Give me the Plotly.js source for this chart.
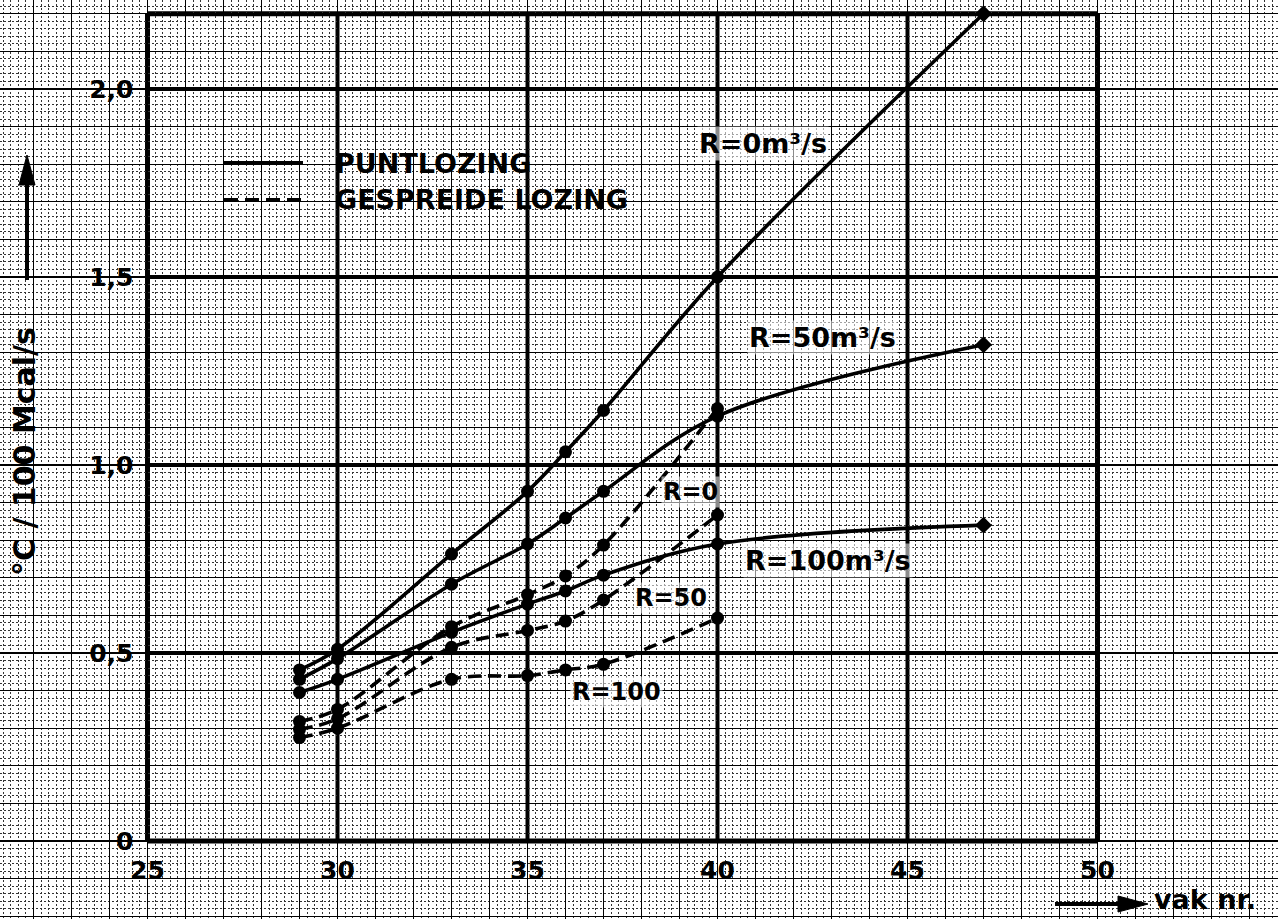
<!DOCTYPE html>
<html>
<head>
<meta charset="utf-8">
<script src="https://cdn.plot.ly/plotly-3.0.1.min.js"></script>
<style>html,body{margin:0;padding:0;background:#fff;}#chart{width:1278px;height:919px;}</style>
</head>
<body>
<div id="chart"></div>
<script>
// ---- data ----
const vakPunt = [29, 30, 33, 35, 36, 37, 40, 47];
const puntR0   = [0.455, 0.51, 0.763, 0.93, 1.035, 1.145, 1.50, 2.20];
const puntR50  = [0.43, 0.485, 0.683, 0.79, 0.859, 0.93, 1.13, 1.32];
const puntR100 = [0.395, 0.43, 0.555, 0.63, 0.665, 0.707, 0.79, 0.84];

const vakGespreid = [29, 30, 33, 35, 36, 37, 40];
const gespR0   = [0.318, 0.35, 0.57, 0.655, 0.705, 0.787, 1.15];
const gespR50  = [0.297, 0.325, 0.515, 0.56, 0.585, 0.641, 0.867];
const gespR100 = [0.275, 0.30, 0.43, 0.44, 0.455, 0.47, 0.593];

const xTickVals = [25, 30, 35, 40, 45, 50];
const xTickText = ['25', '30', '35', '40', '45', '50'];
const yTickVals = [0, 0.5, 1.0, 1.5, 2.0];
const yTickText = ['0', '0,5', '1,0', '1,5', '2,0'];

const curveLabels = [
  {text: 'R=0m³/s',   x: 41.2,  y: 1.856, size: 27},
  {text: 'R=50m³/s',  x: 42.75, y: 1.34,  size: 27},
  {text: 'R=100m³/s', x: 42.9,  y: 0.747, size: 27},
  {text: 'R=0',   x: 39.28, y: 0.928, size: 24},
  {text: 'R=50',  x: 38.78, y: 0.646, size: 24},
  {text: 'R=100', x: 37.33, y: 0.396, size: 24}
];
const legendText = ['PUNTLOZING', 'GESPREIDE LOZING'];
const yTitle = '°C / 100 Mcal/s';
const xTitle = 'vak nr.';

// ---- layout geometry ----
const W = 1278, H = 919;
const xPx25 = 147.5, pxPerX = 38;
const yPx0 = 841, pxPerY = 376;
const xRange = [25 - xPx25 / pxPerX, 25 + (W - xPx25) / pxPerX];
const yRange = [-(H - yPx0) / pxPerY, yPx0 / pxPerY];
const frameX = [25, 50], frameY = [0, 2.2];
const px = v => v / W, py = v => 1 - v / H;

const FONT = 'DejaVu Sans, Liberation Sans, sans-serif';
const DASH = '13px,7px';

function sym(xs) { return xs.map(v => v === 47 ? 'diamond' : 'circle'); }
function series(x, y, dash) {
  return {
    x: x, y: y, type: 'scatter', mode: 'lines+markers',
    line: {color: '#000', width: 3.6, shape: 'spline', smoothing: 1, dash: dash},
    marker: {color: '#000', size: 13, symbol: sym(x)},
    showlegend: false, hoverinfo: 'x+y'
  };
}

const traces = [
  series(vakGespreid, gespR0, DASH),
  series(vakGespreid, gespR50, DASH),
  series(vakGespreid, gespR100, DASH),
  series(vakPunt, puntR0, 'solid'),
  series(vakPunt, puntR50, 'solid'),
  series(vakPunt, puntR100, 'solid'),
  {x: [null], y: [null], xaxis: 'x2', yaxis: 'y2', type: 'scatter', mode: 'markers', showlegend: false, hoverinfo: 'skip'}
];

// thick graph-paper frame lines
const shapes = [];
for (let v = 25; v <= 50; v += 5) {
  shapes.push({type: 'line', xref: 'x', yref: 'y', x0: v, x1: v, y0: frameY[0], y1: frameY[1], layer: 'below',
    line: {color: '#000', width: (v === 25 || v === 50) ? 5 : 4}});
}
[0, 0.5, 1.0, 1.5, 2.0, 2.2].forEach(v => {
  shapes.push({type: 'line', xref: 'x', yref: 'y', x0: frameX[0], x1: frameX[1], y0: v, y1: v, layer: 'below',
    line: {color: '#000', width: (v === 0 || v === 2.2) ? 5 : 4}});
});
// legend samples
shapes.push({type: 'line', xref: 'paper', yref: 'paper', x0: px(224), x1: px(303), y0: py(163), y1: py(163),
  line: {color: '#000', width: 4}});
shapes.push({type: 'line', xref: 'paper', yref: 'paper', x0: px(224), x1: px(303), y0: py(200), y1: py(200),
  line: {color: '#000', width: 4, dash: '14px,7px'}});
// y-title arrow
shapes.push({type: 'line', xref: 'paper', yref: 'paper', x0: px(27), x1: px(27), y0: py(280), y1: py(178),
  line: {color: '#000', width: 4}});
shapes.push({type: 'path', xref: 'paper', yref: 'paper',
  path: `M${px(27)},${py(155)} L${px(19)},${py(185)} L${px(35)},${py(185)} Z`,
  fillcolor: '#000', line: {color: '#000', width: 1}});
// x-title arrow
shapes.push({type: 'line', xref: 'paper', yref: 'paper', x0: px(1055), x1: px(1125), y0: py(904), y1: py(904),
  line: {color: '#000', width: 4}});
shapes.push({type: 'path', xref: 'paper', yref: 'paper',
  path: `M${px(1148)},${py(904)} L${px(1118)},${py(896)} L${px(1118)},${py(912)} Z`,
  fillcolor: '#000', line: {color: '#000', width: 1}});

const annotations = [];
curveLabels.forEach(l => annotations.push({
  text: l.text, x: l.x, y: l.y, xref: 'x', yref: 'y', xanchor: 'center', yanchor: 'middle', showarrow: false,
  font: {family: FONT, size: l.size, color: '#000', weight: 'bold'}, bgcolor: 'rgba(255,255,255,0.55)'
}));
annotations.push({text: legendText[0], x: px(333), y: py(163), xref: 'paper', yref: 'paper',
  xanchor: 'left', yanchor: 'middle', showarrow: false, font: {family: FONT, size: 27, color: '#000', weight: 'bold'}});
annotations.push({text: legendText[1], x: px(333), y: py(200), xref: 'paper', yref: 'paper',
  xanchor: 'left', yanchor: 'middle', showarrow: false, font: {family: FONT, size: 27, color: '#000', weight: 'bold'}});
annotations.push({text: yTitle, x: px(25), y: py(452), xref: 'paper', yref: 'paper', textangle: -90,
  xanchor: 'center', yanchor: 'middle', showarrow: false, font: {family: FONT, size: 30, color: '#000', weight: 'bold'}});
annotations.push({text: xTitle, x: px(1152), y: py(899), xref: 'paper', yref: 'paper', xanchor: 'left', yanchor: 'middle',
  showarrow: false, font: {family: FONT, size: 27, color: '#000', weight: 'bold'}});

const gridAxis = (range, dtick, minorDtick) => ({
  range: range, tick0: 0, dtick: dtick, showgrid: true, gridcolor: '#000', gridwidth: 1.3,
  zeroline: false, showline: false, ticks: '', showticklabels: false, fixedrange: true,
  minor: {tick0: 0, dtick: minorDtick, showgrid: true, gridcolor: '#333', gridwidth: 1, griddash: '2px,2px', ticks: ''}
});

const layout = {
  width: W, height: H,
  margin: {l: 0, r: 0, t: 0, b: 0, pad: 0},
  paper_bgcolor: '#fff', plot_bgcolor: '#fff',
  showlegend: false,
  xaxis: gridAxis(xRange, 1, 0.2),
  yaxis: gridAxis(yRange, 0.1, 0.02),
  xaxis2: {overlaying: 'x', anchor: 'free', position: (0 - yRange[0]) / (yRange[1] - yRange[0]),
    range: xRange, tickmode: 'array', tickvals: xTickVals, ticktext: xTickText, side: 'bottom',
    showgrid: false, zeroline: false, showline: false, ticks: '', ticklabelstandoff: 12,
    tickfont: {family: FONT, size: 25, color: '#000', weight: 'bold'}, fixedrange: true},
  yaxis2: {overlaying: 'y', anchor: 'free', position: (25 - xRange[0]) / (xRange[1] - xRange[0]),
    range: yRange, tickmode: 'array', tickvals: yTickVals, ticktext: yTickText, side: 'left',
    showgrid: false, zeroline: false, showline: false, ticks: '', ticklabelstandoff: 14,
    tickfont: {family: FONT, size: 25, color: '#000', weight: 'bold'}, fixedrange: true},
  shapes: shapes,
  annotations: annotations
};

Plotly.newPlot('chart', traces, layout, {displayModeBar: false, staticPlot: true});
</script>
</body>
</html>
